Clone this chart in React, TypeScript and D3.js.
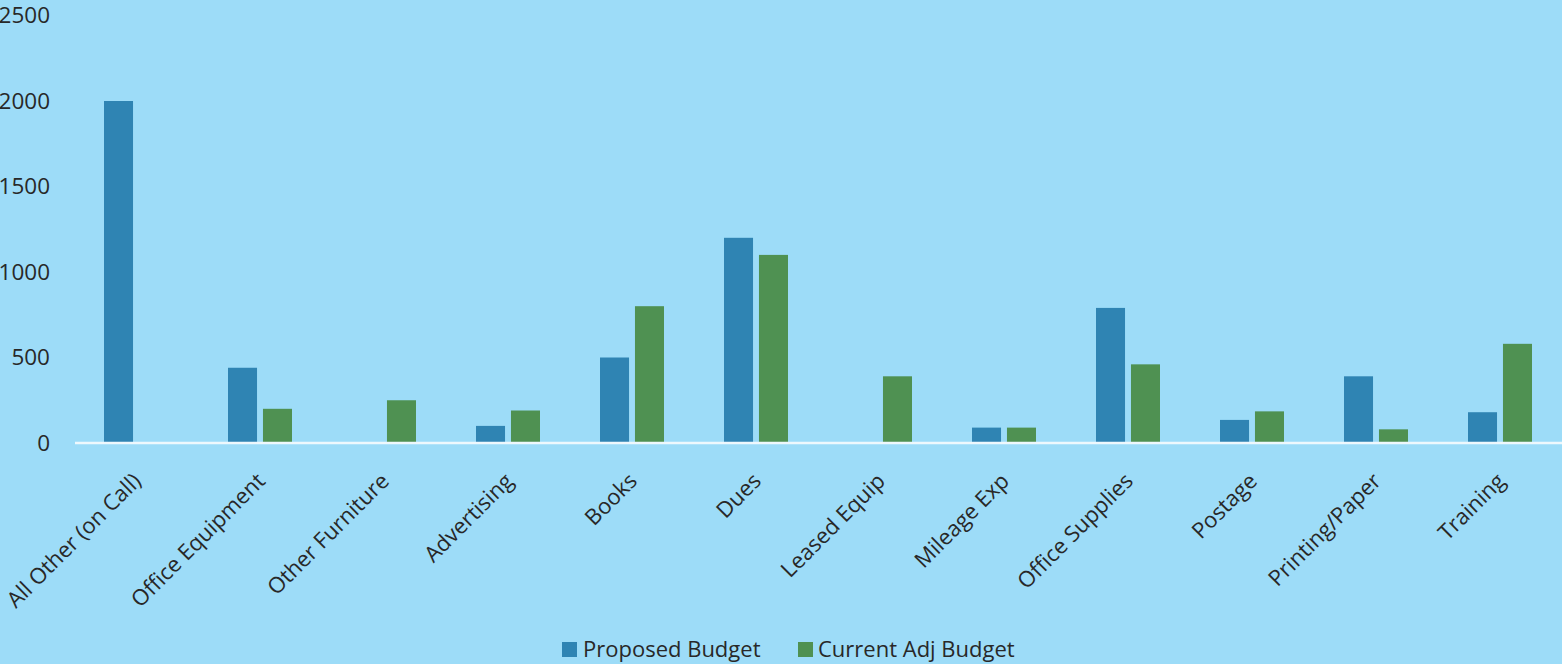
import { useEffect, useRef } from "react";
import * as d3 from "d3";

const categories = [
  "All Other (on Call)",
  "Office Equipment",
  "Other Furniture",
  "Advertising",
  "Books",
  "Dues",
  "Leased Equip",
  "Mileage Exp",
  "Office Supplies",
  "Postage",
  "Printing/Paper",
  "Training",
];
const proposedBudget = [2000, 440, 0, 100, 500, 1200, 0, 90, 790, 135, 390, 180];
const currentAdjBudget = [0, 200, 250, 190, 800, 1100, 390, 90, 460, 185, 80, 580];
const seriesNames = ["Proposed Budget", "Current Adj Budget"];
const yTicks = [0, 500, 1000, 1500, 2000, 2500];

const colors = ["#2f84b3", "#4f9152"];
const bg = "#9ddcf8";
const textColor = "#282828";
const font = "'Open Sans', Lato, sans-serif";

function AxisLeft({ scale }: { scale: d3.ScaleLinear<number, number> }) {
  const ref = useRef<SVGGElement>(null);
  useEffect(() => {
    if (!ref.current) return;
    const g = d3.select(ref.current);
    g.call(
      d3
        .axisLeft(scale)
        .tickValues(yTicks)
        .tickFormat(d3.format("d"))
        .tickSize(0)
        .tickPadding(0)
    );
    g.select(".domain").remove();
    g.selectAll("text")
      .attr("fill", textColor)
      .style("font-family", font)
      .style("font-size", "22.5px");
  }, [scale]);
  return <g ref={ref} transform="translate(50,0)" />;
}

export default function App() {
  const width = 1562;
  const height = 664;
  const baseY = 443;

  const x0 = d3
    .scaleBand<string>()
    .domain(categories)
    .range([74, 1562])
    .paddingInner(0.484)
    .paddingOuter(0.242);
  const x1 = d3
    .scaleBand<string>()
    .domain(seriesNames)
    .range([0, x0.bandwidth()])
    .paddingInner(0.17);
  const y = d3.scaleLinear().domain([0, 2000]).range([baseY, 101]);

  const rows = categories.map((c, i) => ({
    label: c,
    values: [proposedBudget[i], currentAdjBudget[i]],
  }));

  return (
    <svg
      width={width}
      height={height}
      style={{ position: "absolute", left: 0, top: 0 }}
    >
      <rect width={width} height={height} fill={bg} />
      <AxisLeft scale={y} />
      {rows.map((r) => (
        <g key={r.label} transform={`translate(${x0(r.label)},0)`}>
          {r.values.map((v, j) =>
            v > 0 ? (
              <rect
                key={j}
                x={x1(seriesNames[j])}
                y={y(v)}
                width={x1.bandwidth()}
                height={baseY - y(v)}
                fill={colors[j]}
              />
            ) : null
          )}
        </g>
      ))}
      <line x1={75} x2={1562} y1={baseY} y2={baseY} stroke="#eef8fd" strokeWidth={2.5} />
      {categories.map((c) => {
        const cx = (x0(c) as number) + x0.bandwidth() / 2 + 1;
        return (
          <text
            key={c}
            transform={`translate(${cx},${baseY + 34}) rotate(-45)`}
            textAnchor="end"
            dy="0.35em"
            fill={textColor}
            style={{ fontFamily: font, fontSize: "22px" }}
          >
            {c}
          </text>
        );
      })}
      <g style={{ fontFamily: font, fontSize: "22px" }} fill={textColor}>
        <rect x={562} y={642} width={15} height={15} fill={colors[0]} />
        <text x={583} y={657}>{seriesNames[0]}</text>
        <rect x={798} y={642} width={15} height={15} fill={colors[1]} />
        <text x={818} y={657}>{seriesNames[1]}</text>
      </g>
    </svg>
  );
}
